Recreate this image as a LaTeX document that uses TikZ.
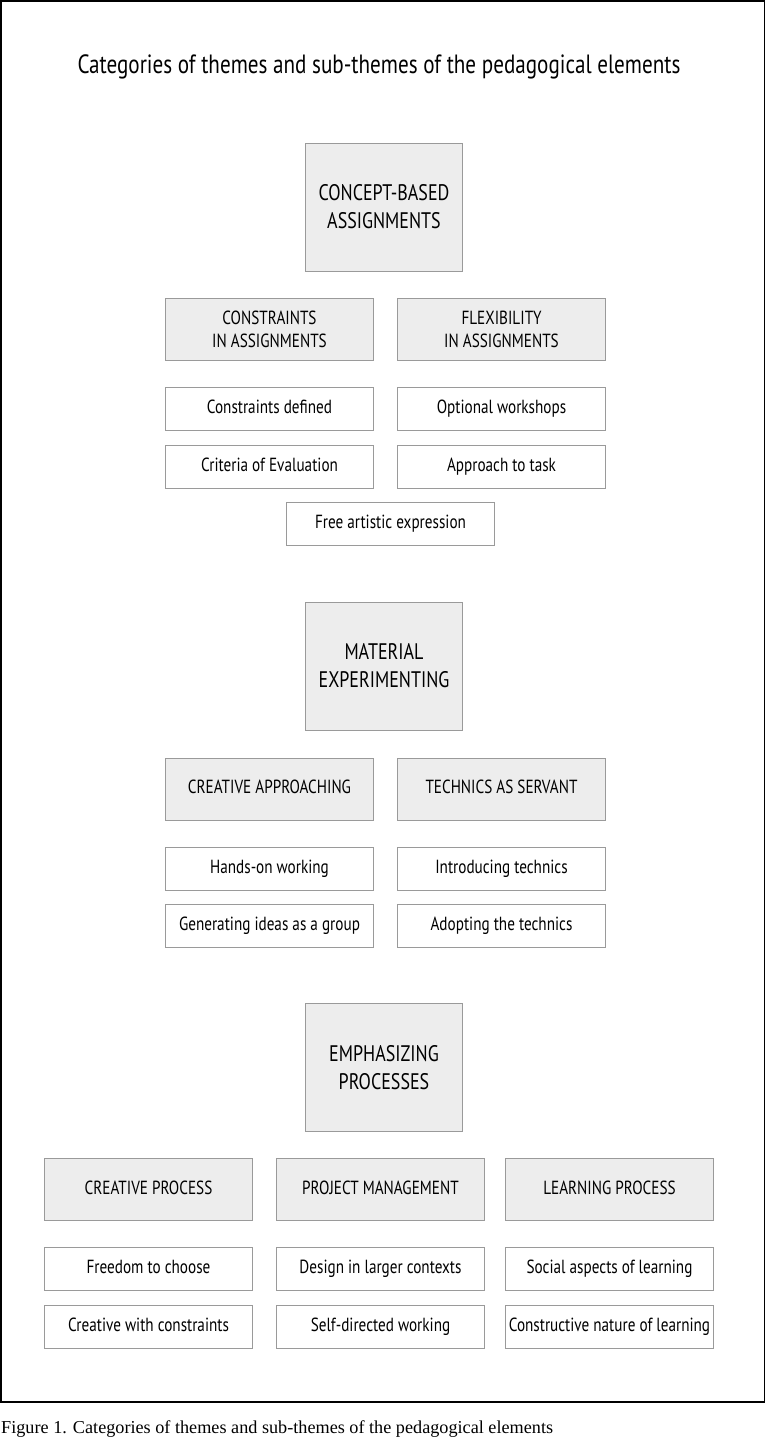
\documentclass[tikz,border=0pt]{standalone}
\usepackage{fontspec}
\setmainfont{Liberation Serif}
\newfontfamily\condfont[FakeStretch=0.8]{PT Sans}
\usetikzlibrary{positioning}
\definecolor{shade}{HTML}{EDEDED}
\definecolor{rim}{HTML}{9A9A9A}
\tikzset{
  every node/.style={font=\condfont\fontsize{19}{23}\selectfont,text=black},
  box/.style={draw=rim,line width=1pt,fill=white,minimum width=208pt,minimum height=43pt,align=center,inner sep=2pt},
  subbox/.style={box,text height=13.5pt,text depth=4pt},
  headbox/.style={box,fill=shade,minimum height=62pt},
  oneheadbox/.style={headbox,text height=13.5pt,text depth=4pt},
  themebox/.style={box,fill=shade,minimum width=157pt,minimum height=128pt,font=\condfont\fontsize{22.5}{28}\selectfont},
  frame/.style={draw=black,line width=1.5pt},
}

\begin{document}
\begin{tikzpicture}[x=1pt,y=-1pt]
\useasboundingbox (0,0) rectangle (765,1444);
\draw[frame] (0.75,0.75) rectangle (764.25,1402);

\node[font=\condfont\fontsize{26.4}{30}\selectfont] (title) at (379,67)
{Categories of themes and sub-themes of the pedagogical elements};

% --- concept-based assignments
\node[themebox] (concept) at (384,207) {CONCEPT-BASED\\ASSIGNMENTS};
\node[headbox,below=26pt of concept,xshift=-114.5pt] (conhead) {CONSTRAINTS\\IN ASSIGNMENTS};
\node[headbox,below=26pt of concept,xshift=117.5pt] (flexhead) {FLEXIBILITY\\IN ASSIGNMENTS};
\node[subbox,below=26pt of conhead] (condef) {Constraints defined};
\node[subbox,below=14pt of condef] (crit) {Criteria of Evaluation};
\node[subbox,below=26pt of flexhead] (optws) {Optional workshops};
\node[subbox,below=14pt of optws] (appr) {Approach to task};
\node[subbox,below=13pt of crit,xshift=121pt] (free) {Free artistic expression};

% --- material experimenting
\node[themebox] (material) at (384,666) {MATERIAL\\EXPERIMENTING};
\node[oneheadbox,below=27pt of material,xshift=-114.5pt] (creappr) {CREATIVE APPROACHING};
\node[oneheadbox,below=27pt of material,xshift=117.5pt] (techserv) {TECHNICS AS SERVANT};
\node[subbox,below=26pt of creappr] (hands) {Hands-on working};
\node[subbox,below=13pt of hands] (gener) {Generating ideas as a group};
\node[subbox,below=26pt of techserv] (intro) {Introducing technics};
\node[subbox,below=13pt of intro] (adopt) {Adopting the technics};

% --- emphasizing processes
\node[themebox] (emph) at (384,1067.5) {EMPHASIZING\\PROCESSES};
\node[oneheadbox,below=26pt of emph,xshift=-235.5pt] (creproc) {CREATIVE PROCESS};
\node[oneheadbox,below=26pt of emph,xshift=-3.5pt] (projman) {PROJECT MANAGEMENT};
\node[oneheadbox,below=26pt of emph,xshift=225.5pt] (learnproc) {LEARNING PROCESS};
\node[subbox,below=26pt of creproc] (freedom) {Freedom to choose};
\node[subbox,below=14pt of freedom] (crewith) {Creative with constraints};
\node[subbox,below=26pt of projman] (design) {Design in larger contexts};
\node[subbox,below=14pt of design] (selfdir) {Self-directed working};
\node[subbox,below=26pt of learnproc] (social) {Social aspects of learning};
\node[subbox,below=14pt of social] (construct) {Constructive nature of learning};

\node[anchor=west,font=\rmfamily\fontsize{18.2}{22}\selectfont,inner sep=0pt] (caption) at (1,1429)
{Figure 1. Categories of themes and sub-themes of the pedagogical elements};
\end{tikzpicture}
\end{document}
